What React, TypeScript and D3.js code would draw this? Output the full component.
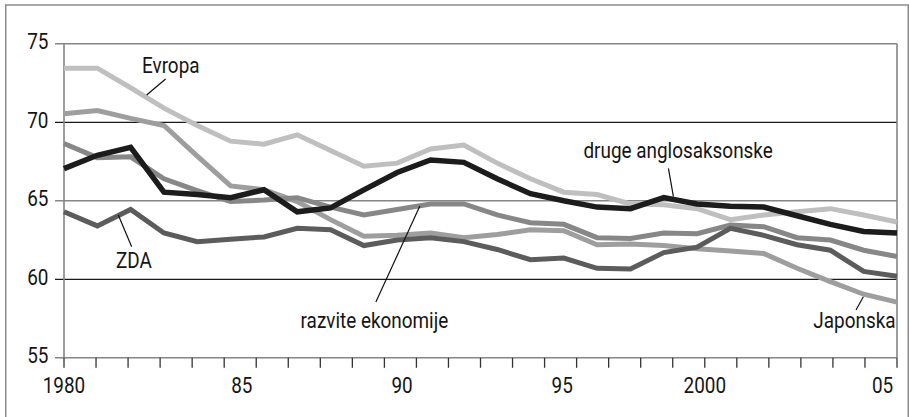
import React from "react";
import * as d3 from "d3";

const years = [1980, 1981, 1982, 1983, 1984, 1985, 1986, 1987, 1988, 1989, 1990, 1991, 1992,
  1993, 1994, 1995, 1996, 1997, 1998, 1999, 2000, 2001, 2002, 2003, 2004, 2005];

const evropa = [73.45, 73.45, 72.2, 70.9, 69.8, 68.8, 68.6, 69.2, 68.2, 67.2, 67.4, 68.3, 68.55,
  67.4, 66.4, 65.55, 65.4, 64.8, 64.75, 64.5, 63.8, 64.1, 64.3, 64.5, 64.1, 63.65];
const japonska = [70.55, 70.75, 70.25, 69.8, 67.85, 65.95, 65.7, 64.95, 63.8, 62.75, 62.8, 62.95, 62.65,
  62.85, 63.15, 63.1, 62.2, 62.25, 62.15, 61.95, 61.8, 61.65, 60.7, 59.85, 59.05, 58.55];
const razvite = [68.65, 67.75, 67.8, 66.4, 65.65, 64.95, 65.05, 65.2, 64.6, 64.1, 64.45, 64.8, 64.8,
  64.1, 63.6, 63.5, 62.65, 62.6, 62.95, 62.9, 63.45, 63.35, 62.65, 62.5, 61.85, 61.45];
const zda = [64.3, 63.4, 64.45, 62.95, 62.4, 62.55, 62.7, 63.25, 63.15, 62.15, 62.5, 62.65, 62.4,
  61.9, 61.25, 61.35, 60.7, 60.65, 61.7, 62.05, 63.25, 62.8, 62.2, 61.85, 60.5, 60.2];
const druge = [67.05, 67.9, 68.4, 65.55, 65.4, 65.2, 65.7, 64.3, 64.55, 65.7, 66.8, 67.6, 67.45,
  66.4, 65.45, 65.0, 64.6, 64.5, 65.2, 64.8, 64.65, 64.6, 64.05, 63.5, 63.05, 62.95];

const yTicks = [55, 60, 65, 70, 75];
const xTickYears = [1980, 1985, 1990, 1995, 2000, 2005];
const xTickLabels = ["1980", "85", "90", "95", "2000", "05"];
const tickCount = 27;

const seriesList = [
  { name: "Evropa", values: evropa, color: "#bfbfbf", width: 5 },
  { name: "Japonska", values: japonska, color: "#9e9e9e", width: 5 },
  { name: "razvite ekonomije", values: razvite, color: "#878787", width: 5 },
  { name: "ZDA", values: zda, color: "#5c5c5c", width: 5 },
  { name: "druge anglosaksonske", values: druge, color: "#1c1c1c", width: 5.5 },
];

// annotation positions in data units (year, value)
const annotations = [
  { text: "Evropa", tx: 1982.34, tv: 73.17, l1: [1983.05, 72.76], l2: [1982.48, 71.74] },
  { text: "ZDA", tx: 1981.56, tv: 60.72, l1: [1981.63, 64.1], l2: [1982.03, 62.08] },
  { text: "razvite ekonomije", tx: 1987.1, tv: 56.92, l1: [1989.36, 58.55], l2: [1990.68, 64.67] },
  { text: "druge anglosaksonske", tx: 1995.59, tv: 67.71, l1: [1998.14, 67.07], l2: [1998.29, 65.26] },
  { text: "Japonska", tx: 2002.49, tv: 56.88, l1: [2003.99, 58.89], l2: [2003.77, 58.04] },
];

const W = 909;
const H = 417;
const FONT = "Roboto, 'Noto Sans', sans-serif";
const SX = 0.86;

function Label({ x, y, anchor = "start", children }: { x: number; y: number; anchor?: string; children: React.ReactNode }) {
  return (
    <text
      transform={`translate(${x},${y}) scale(${SX},1)`}
      textAnchor={anchor}
      fontFamily={FONT}
      fontSize={22}
      fill="#151515"
    >
      {children}
    </text>
  );
}

export default function App() {
  const x = d3.scaleLinear().domain([1980, 2005]).range([64, 897]);
  const y = d3.scaleLinear().domain([55, 75]).range([357.8, 43.8]);
  const tx = d3.scaleLinear().domain([0, tickCount - 1]).range([64, 897]);

  const line = d3
    .line<number>()
    .x((_, i) => x(years[i]))
    .y((d) => y(d));

  const gray = "#858585";

  return (
    <svg width={W} height={H} style={{ position: "absolute", left: 0, top: 0, background: "#fff" }}>
      <rect x={5.75} y={5} width={902.5} height={430} fill="none" stroke="#8c8c8c" strokeWidth={1.5} />

      {/* horizontal gridlines */}
      {yTicks.map((v) => (
        <line
          key={v}
          x1={55}
          x2={897}
          y1={y(v)}
          y2={y(v)}
          stroke={v % 10 === 0 ? "#1a1a1a" : gray}
          strokeWidth={v % 10 === 0 ? 1.2 : 1.6}
        />
      ))}
      {/* left and right borders */}
      <line x1={64} x2={64} y1={y(75)} y2={y(55)} stroke={gray} strokeWidth={1.6} />
      <line x1={897} x2={897} y1={y(75)} y2={y(55)} stroke={gray} strokeWidth={1.6} />

      {/* x ticks */}
      {d3.range(tickCount).map((i) => (
        <line key={i} x1={tx(i)} x2={tx(i)} y1={y(55)} y2={y(55) + 10} stroke="#333" strokeWidth={1.3} />
      ))}

      {/* y labels */}
      {yTicks.map((v) => (
        <Label key={v} x={48.5} y={y(v) + 5.5} anchor="end">
          {String(v)}
        </Label>
      ))}

      {/* x labels */}
      {xTickYears.map((yr, i) => {
        const lab = xTickLabels[i];
        const pos = tx(yr - 1980);
        return lab.length > 2 ? (
          <Label key={yr} x={pos} y={392.5} anchor="middle">
            {lab}
          </Label>
        ) : (
          <Label key={yr} x={pos + 7} y={392.5} anchor="start">
            {lab}
          </Label>
        );
      })}

      {/* series */}
      {seriesList.map((s) => (
        <path
          key={s.name}
          d={line(s.values) || ""}
          fill="none"
          stroke={s.color}
          strokeWidth={s.width}
          strokeLinejoin="miter"
          strokeMiterlimit={3}
        />
      ))}

      {/* annotations */}
      {annotations.map((a) => (
        <g key={a.text}>
          <line
            x1={x(a.l1[0])}
            y1={y(a.l1[1])}
            x2={x(a.l2[0])}
            y2={y(a.l2[1])}
            stroke="#111"
            strokeWidth={1.2}
          />
          <Label x={x(a.tx)} y={y(a.tv)}>
            {a.text}
          </Label>
        </g>
      ))}
    </svg>
  );
}
